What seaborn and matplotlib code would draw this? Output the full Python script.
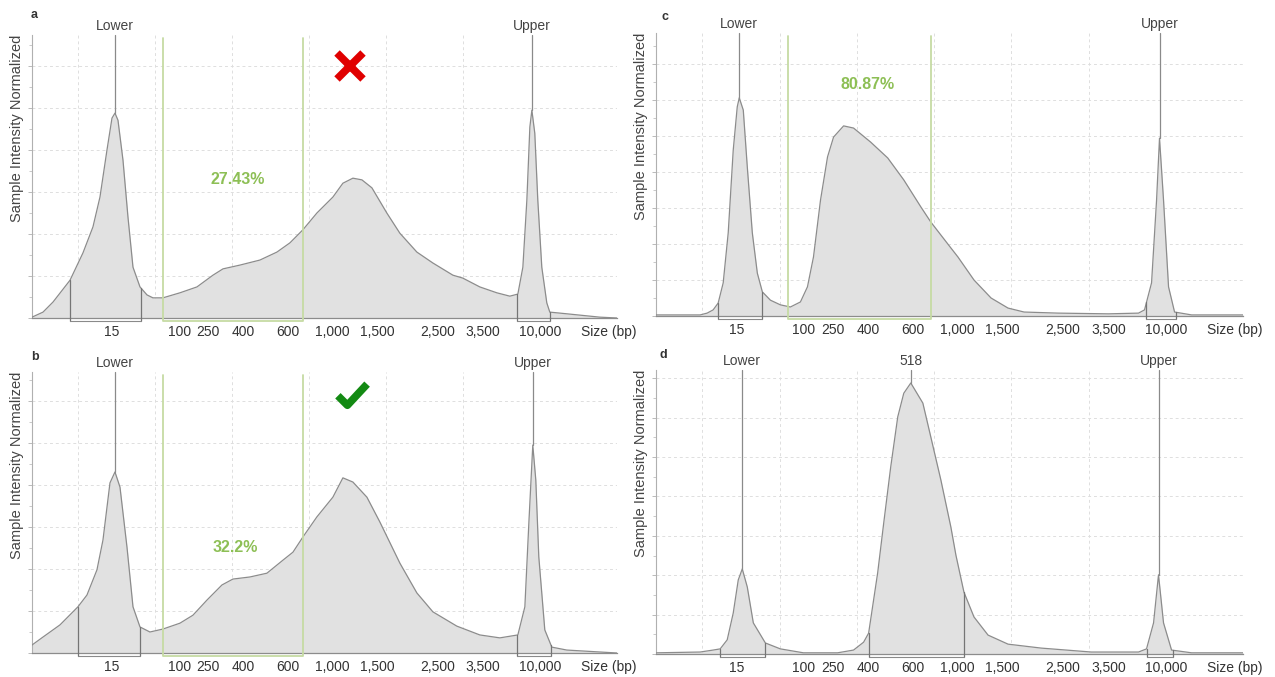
import numpy as np
import pandas as pd
import matplotlib
matplotlib.use("Agg")
import matplotlib.pyplot as plt
import seaborn as sns
from matplotlib.path import Path
from matplotlib.ticker import MultipleLocator

# ---------------- data (migration position -> normalized intensity) ----------------
ladder_sizes = ["15", "100", "250", "400", "600", "1,000", "1,500", "2,500", "3,500", "10,000"]
ladder_pos = [4.4, 13.15, 16.9, 21.5, 27.2, 33.0, 38.9, 46.65, 52.6, 60.0]
size_unit = "Size (bp)"

a_x = [-6.0, -4.57, -3.27, -1.06, 0.62, 1.92, 2.83, 3.74, 4.39, 4.78, 5.17, 5.82, 6.47, 7.12, 8.03,
       8.94, 9.71, 11.01, 13.22, 15.43, 17.51, 18.81, 21.01, 23.61, 25.82, 27.51, 29.19, 31.01, 33.09,
       34.39, 35.69, 36.86, 38.16, 40.10, 41.79, 44.00, 46.08, 48.68, 49.97, 52.18, 54.39, 56.08, 57.12,
       57.77, 58.29, 58.68, 58.94, 59.32, 59.71, 60.23, 60.88, 61.27, 63.48, 67.77, 70.0]
a_y = [0.02, 0.14, 0.38, 0.90, 1.55, 2.17, 2.88, 4.00, 4.76, 4.88, 4.71, 3.76, 2.40, 1.21, 0.74,
       0.55, 0.48, 0.48, 0.60, 0.74, 1.02, 1.17, 1.26, 1.38, 1.57, 1.79, 2.10, 2.50, 2.88,
       3.21, 3.33, 3.29, 3.10, 2.50, 2.02, 1.57, 1.31, 1.02, 0.95, 0.74, 0.60, 0.52, 0.57,
       1.21, 2.81, 4.55, 4.95, 4.40, 2.81, 1.21, 0.36, 0.14, 0.10, 0.02, 0.0]

b_x = [-6.0, -4.57, -2.36, -0.03, 1.14, 2.44, 3.22, 4.13, 4.78, 5.43, 6.34, 7.12, 8.03, 9.32, 11.01,
       13.22, 14.91, 16.73, 18.68, 20.10, 22.31, 24.52, 26.60, 27.90, 29.19, 31.01, 33.09, 34.39, 35.69,
       37.51, 39.19, 41.79, 44.00, 46.08, 49.19, 52.18, 54.78, 57.12, 58.03, 58.55, 59.06, 59.45, 59.84,
       60.62, 61.53, 63.48, 70.0]
b_y = [0.19, 0.38, 0.67, 1.10, 1.38, 1.98, 2.69, 4.05, 4.31, 3.95, 2.52, 1.10, 0.62, 0.50, 0.57,
       0.71, 0.90, 1.26, 1.62, 1.76, 1.81, 1.90, 2.21, 2.40, 2.76, 3.24, 3.71, 4.17, 4.07,
       3.71, 3.12, 2.14, 1.43, 0.98, 0.64, 0.43, 0.36, 0.43, 1.10, 3.10, 4.95, 4.12, 2.29,
       0.55, 0.14, 0.07, 0.0]

c_x = [-6.0, -0.29, 0.62, 1.40, 2.05, 2.70, 3.35, 4.0, 4.52, 4.78, 5.30, 5.82, 6.47, 7.12, 7.77,
       8.81, 10.10, 11.40, 12.70, 13.61, 14.39, 15.30, 16.21, 16.99, 18.29, 19.58, 21.79, 24.0, 26.08,
       28.29, 29.58, 30.88, 32.18, 33.09, 35.17, 37.38, 39.58, 41.66, 46.08, 52.57, 56.47, 57.25, 58.16,
       58.81, 59.19, 59.71, 60.36, 61.14, 63.35, 70.0]
c_y = [0.03, 0.03, 0.08, 0.17, 0.36, 0.92, 2.31, 4.61, 5.81, 6.06, 5.72, 4.14, 2.31, 1.19, 0.67,
       0.44, 0.31, 0.25, 0.39, 0.81, 1.64, 3.22, 4.42, 4.97, 5.28, 5.22, 4.83, 4.39, 3.78,
       3.03, 2.61, 2.25, 1.89, 1.64, 1.0, 0.5, 0.22, 0.11, 0.08, 0.06, 0.08, 0.17, 0.92,
       3.22, 4.94, 3.22, 0.81, 0.11, 0.03, 0.03]

d_x = [-6.0, -0.29, 1.40, 2.31, 3.22, 4.0, 4.65, 5.17, 5.82, 6.60, 8.16, 10.10, 13.09, 17.51, 19.58,
       20.88, 21.53, 22.70, 23.48, 24.39, 25.30, 26.08, 26.99, 28.55, 29.58, 30.88, 32.18, 32.83, 33.87,
       35.17, 36.99, 39.58, 43.87, 50.36, 56.47, 57.51, 58.42, 59.06, 59.71, 60.75, 63.35, 70.0]
d_y = [0.03, 0.05, 0.10, 0.13, 0.36, 1.04, 1.88, 2.16, 1.70, 0.79, 0.28, 0.13, 0.03, 0.03, 0.10,
       0.30, 0.53, 2.06, 3.32, 4.75, 6.02, 6.62, 6.88, 6.37, 5.51, 4.42, 3.22, 2.51, 1.57,
       0.94, 0.48, 0.25, 0.15, 0.05, 0.05, 0.13, 0.79, 2.01, 0.79, 0.10, 0.03, 0.03]

# integrated regions (start, end) and their peak labels
a_regions = [(-1.06, 8.16, "Lower"), (56.99, 61.27, "Upper")]
b_regions = [(-0.03, 8.03, "Lower"), (56.99, 61.40, "Upper")]
c_regions = [(2.05, 7.77, "Lower"), (57.5, 61.27, "Upper")]
d_regions = [(2.31, 8.16, "Lower"), (21.53, 33.87, "518"), (57.51, 60.88, "Upper")]

# smear analysis windows and percentages
a_smear = (11.01, 29.19, "27.43%")
b_smear = (11.01, 29.19, "32.2%")
c_smear = (11.14, 29.58, "80.87%")

y_tops = {"a": 6.74, "b": 6.69, "c": 7.86, "d": 7.21}

# ---------------- styling ----------------
sns.set_theme(style="white")
plt.rcParams["font.family"] = ["Liberation Sans", "DejaVu Sans"]

W, H = 1275, 677
fig = plt.figure(figsize=(W / 100, H / 100), dpi=100)

FILL = "#e1e1e1"
EDGE = "#8c8c8c"
GRID = "#dedede"
GREEN_LINE = "#c6dba4"
GREEN_TEXT = "#8dbf55"


def px_axes(left, top, right, bottom):
    return fig.add_axes([left / W, 1 - bottom / H, (right - left) / W, (bottom - top) / H])


def draw_panel(ax, x, y, letter, regions, smear=None, ylabel_x=-0.014):
    ytop = y_tops[letter]
    df = pd.DataFrame({"pos": x, "intensity": y})
    ax.set_xlim(-6, 70)
    ax.set_ylim(0, ytop)
    ax.set_axisbelow(True)

    ax.fill_between(df["pos"], df["intensity"], 0, color=FILL, lw=0, zorder=2)
    sns.lineplot(data=df, x="pos", y="intensity", ax=ax, color=EDGE, lw=0.9,
                 estimator=None, sort=False, zorder=3)

    ax_h_px = ax.get_position().height * H
    below = ytop * 2.5 / ax_h_px  # a couple of pixels below the baseline

    xs = np.asarray(x)
    ys = np.asarray(y)
    for lo, hi, lab in regions:
        for b in (lo, hi):
            ax.plot([b, b], [-below, np.interp(b, xs, ys)], color="#757575", lw=0.9,
                    zorder=4, clip_on=False)
        ax.plot([lo, hi], [-below, -below], color="#8a8a8a", lw=0.8, zorder=4, clip_on=False)
        m = (xs >= lo) & (xs <= hi)
        pk = np.argmax(np.where(m, ys, -1))
        ax.plot([xs[pk], xs[pk]], [ys[pk], ytop], color="#8a8a8a", lw=0.9, zorder=4, clip_on=False)
        ax.annotate(lab, (xs[pk], ytop), xytext=(0, 1.5), textcoords="offset points",
                    ha="center", va="bottom", fontsize=10, color="#444444", annotation_clip=False)

    if smear is not None:
        lo, hi, pct = smear
        top = ytop * (1 - 2.5 / ax_h_px)
        ax.plot([lo, lo, hi, hi], [top, -below, -below, top], color=GREEN_LINE, lw=1.3,
                zorder=5, clip_on=False)

    # axes cosmetics
    for s in ("top", "right"):
        ax.spines[s].set_visible(False)
    ax.spines["left"].set_color("#b0b0b0")
    ax.spines["bottom"].set_color("#8c8c8c")
    ax.spines["left"].set_linewidth(0.8)
    ax.spines["bottom"].set_linewidth(0.9)

    ax.set_xticks(ladder_pos + [68.9])
    ax.set_xticklabels(ladder_sizes + [size_unit])
    ax.tick_params(axis="x", which="major", length=0, pad=5, labelsize=10, labelcolor="#333333")
    ax.xaxis.set_minor_locator(MultipleLocator(10))
    ax.tick_params(axis="x", which="minor", length=0)
    ax.yaxis.set_major_locator(MultipleLocator(1))
    ax.yaxis.set_minor_locator(MultipleLocator(0.5))
    ax.tick_params(axis="y", which="major", length=3, width=0.6, color="#b0b0b0", labelleft=False, left=True)
    ax.tick_params(axis="y", which="minor", length=2, width=0.6, color="#c0c0c0", left=True)
    ax.grid(False)
    ax.grid(True, which="minor", axis="x", color=GRID, ls=(0, (3, 3)), lw=0.7)
    ax.grid(True, which="major", axis="y", color=GRID, ls=(0, (3, 3)), lw=0.7)
    ax.set_xlabel("")
    ax.set_ylabel("Sample Intensity Normalized", loc="top", fontsize=10.5, color="#444444")
    ax.yaxis.set_label_coords(ylabel_x, 1.0)


ax_a = px_axes(32, 35, 617, 318)
ax_b = px_axes(32, 372, 617, 653)
ax_c = px_axes(656, 33, 1243, 316)
ax_d = px_axes(656, 370, 1243, 654)

draw_panel(ax_a, a_x, a_y, "a", a_regions, a_smear)
draw_panel(ax_b, b_x, b_y, "b", b_regions, b_smear)
draw_panel(ax_c, c_x, c_y, "c", c_regions, c_smear)
draw_panel(ax_d, d_x, d_y, "d", d_regions)

# smear percentages
ax_a.text(20.75, 3.29, a_smear[2], color=GREEN_TEXT, fontsize=11.5, fontweight="bold",
          ha="center", va="center", zorder=6)
ax_b.text(20.36, 2.52, b_smear[2], color=GREEN_TEXT, fontsize=11.5, fontweight="bold",
          ha="center", va="center", zorder=6)
ax_c.text(21.4, 6.42, c_smear[2], color=GREEN_TEXT, fontsize=11.5, fontweight="bold",
          ha="center", va="center", zorder=6)

# verdict marks
ax_a.plot([35.3], [6.0], marker="x", markersize=19, markeredgewidth=5.5, color="#e00000",
          zorder=7, clip_on=False)
check = Path([(-1.0, 0.05), (-0.35, -0.6), (1.0, 0.85)], [Path.MOVETO, Path.LINETO, Path.LINETO])
ax_b.plot([35.56], [6.12], marker=check, markersize=21, markeredgewidth=5.5,
          markerfacecolor="none", markeredgecolor="#138a13", zorder=7, clip_on=False)

# panel letters
for lab, (px, py) in {"a": (34, 15), "b": (35, 357), "c": (665, 17), "d": (663, 355)}.items():
    fig.text(px / W, 1 - py / H, lab, fontsize=9, fontweight="bold", color="#333333",
             ha="center", va="center")

fig.savefig("out.png", dpi=100)
